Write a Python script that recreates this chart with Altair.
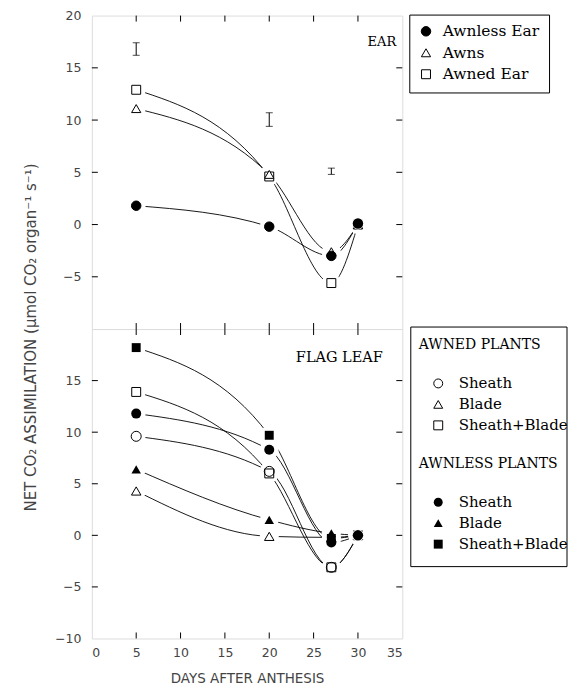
import altair as alt
import pandas as pd

# ---------------- data ----------------
days = [5, 20, 27, 30]

ear_series = ["Awnless Ear", "Awns", "Awned Ear"]
ear_awnless = [1.8, -0.2, -3.0, 0.1]
ear_awns = [11.1, 4.8, -2.6, 0.0]
ear_awned = [12.9, 4.6, -5.6, 0.0]

err_days = [5, 20, 27]
err_lo = [16.2, 9.4, 4.8]
err_hi = [17.4, 10.7, 5.4]

leaf_groups = ["AWNED PLANTS", "AWNLESS PLANTS"]
leaf_parts = ["Sheath", "Blade", "Sheath+Blade"]
awned_sheath = [9.6, 6.2, -3.1, 0.0]
awned_blade = [4.3, -0.1, -0.2, 0.0]
awned_sb = [13.9, 6.0, -3.1, 0.0]
awnless_sheath = [11.8, 8.3, -0.7, 0.0]
awnless_blade = [6.4, 1.5, 0.2, 0.0]
awnless_sb = [18.2, 9.7, -0.3, 0.0]

x_labels = [0, 5, 10, 15, 20, 25, 30, 35]
x_tick_marks = [5, 10, 15, 20, 25, 30]
y_tick_marks = [-5, 0, 5, 10, 15]
ear_y_labels = [20, 15, 10, 5, 0, -5]
leaf_y_labels = [15, 10, 5, 0, -5, -10]

panel_labels_ear = pd.DataFrame({"day": [32.7], "value": [17.5], "text": ["EAR"]})
panel_labels_leaf = pd.DataFrame({"day": [27.9], "value": [17.2], "text": ["FLAG LEAF"]})

# ---------------- frames (drawing order: last drawn on top) ----------------
ear_rows = []
for name, vals in [("Awned Ear", ear_awned), ("Awns", ear_awns),
                   ("Awnless Ear", ear_awnless)]:
    for d, v in zip(days, vals):
        ear_rows.append({"day": d, "value": v, "series": name})
ear_df = pd.DataFrame(ear_rows)

err_df = pd.DataFrame({"day": err_days, "lo": err_lo, "hi": err_hi})

leaf_rows = []
for grp, series in [("AWNED PLANTS", [("Sheath+Blade", awned_sb), ("Blade", awned_blade),
                                      ("Sheath", awned_sheath)]),
                    ("AWNLESS PLANTS", [("Sheath+Blade", awnless_sb),
                                        ("Blade", awnless_blade),
                                        ("Sheath", awnless_sheath)])]:
    for part, vals in series:
        for d, v in zip(days, vals):
            leaf_rows.append({"day": d, "value": v, "group": grp, "part": part,
                              "key": grp + part})
leaf_df = pd.DataFrame(leaf_rows)

xt_df = pd.DataFrame({"t": x_tick_marks})
yt_df = pd.DataFrame({"t": y_tick_marks})
one_df = pd.DataFrame({"a": [0]})

W = 311
H1 = 314
H2 = 310
TICK = 6
LAST_DAY = days[-1]

LABEL_FONT = "DejaVu Sans"
SERIF = "DejaVu Serif"

xscale = alt.Scale(domain=[0, 35], nice=False, zero=False)
yscale = alt.Scale(domain=[-10, 20], nice=False, zero=False)

x_axis_none = None
x_axis_bottom = alt.Axis(values=x_labels, ticks=False, domain=False, grid=False,
                         labelPadding=8, labelFont=LABEL_FONT, labelFontSize=12.5,
                         labelColor="#444", title="DAYS    AFTER    ANTHESIS",
                         titleFont=LABEL_FONT, titleFontSize=13.5, titleFontWeight="normal",
                         titleColor="#444", titlePadding=13)

y_axis_top = alt.Axis(values=ear_y_labels, ticks=False, domain=False, grid=False,
                      labelPadding=11, labelFont=LABEL_FONT, labelFontSize=12.5,
                      labelColor="#444", title=None)
y_axis_bottom = alt.Axis(values=leaf_y_labels, ticks=False, domain=False, grid=False,
                         labelPadding=11, labelFont=LABEL_FONT, labelFontSize=12.5,
                         labelColor="#444",
                         title="NET   CO\u2082   ASSIMILATION   (\u03bcmol   CO\u2082   organ\u207b\u00b9   s\u207b\u00b9)",
                         titleFont=LABEL_FONT, titleFontSize=15, titleFontWeight="normal",
                         titleColor="#444", titleX=-61, titleY=8,
                         titleBaseline="middle", titleAlign="center", titleAngle=270)


def tick_layers(h, xaxis, yaxis):
    left = alt.Chart(yt_df).mark_rule(color="black", strokeWidth=1).encode(
        y=alt.Y("t:Q", scale=yscale, axis=yaxis), x=alt.value(0), x2=alt.value(TICK))
    right = alt.Chart(yt_df).mark_rule(color="black", strokeWidth=1).encode(
        y=alt.Y("t:Q", scale=yscale, axis=yaxis), x=alt.value(W - TICK), x2=alt.value(W))
    top = alt.Chart(xt_df).mark_rule(color="black", strokeWidth=1).encode(
        x=alt.X("t:Q", scale=xscale, axis=xaxis), y=alt.value(0), y2=alt.value(TICK))
    bottom = alt.Chart(xt_df).mark_rule(color="black", strokeWidth=1).encode(
        x=alt.X("t:Q", scale=xscale, axis=xaxis), y=alt.value(h - TICK), y2=alt.value(h))
    return [left, right, top, bottom]


HALO = 360

# ---------------- top panel (EAR) ----------------
ex = alt.X("day:Q", scale=xscale, axis=x_axis_none)
ey = alt.Y("value:Q", scale=yscale, axis=y_axis_top)

ear_lines = alt.Chart(ear_df).mark_line(interpolate="monotone", color="black",
                                        strokeWidth=0.9).encode(
    x=ex, y=ey, detail="series:N")
ear_halo = alt.Chart(ear_df).mark_point(filled=True, color="white", size=HALO,
                                        opacity=1).encode(x=ex, y=ey)
ear_legend = alt.Legend(title=None, orient="none", legendX=318, legendY=-1,
                        padding=9, strokeColor="black", labelFont=SERIF,
                        labelFontSize=15.5, labelColor="black", rowPadding=4.5,
                        symbolStrokeColor="black",
                        symbolStrokeWidth=1, labelOffset=9)
ear_points = alt.Chart(ear_df).mark_point(filled=True, strokeWidth=1,
                                          opacity=1).encode(
    x=ex, y=ey,
    shape=alt.Shape("series:N", scale=alt.Scale(domain=ear_series,
                                                range=["circle", "triangle-up", "square"]),
                    legend=ear_legend),
    fill=alt.Fill("series:N", scale=alt.Scale(domain=ear_series,
                                              range=["black", "white", "white"]),
                  legend=ear_legend),
    stroke=alt.Stroke("series:N", scale=alt.Scale(domain=ear_series,
                                                  range=["black", "black", "black"]),
                      legend=ear_legend),
    size=alt.Size("series:N", scale=alt.Scale(domain=ear_series, range=[90, 80, 64]),
                  legend=ear_legend),
)
# the filled circle sits on top of the coincident markers at the last day
ear_cap_halo = alt.Chart(ear_df).transform_filter(
    (alt.datum.series == "Awnless Ear") & (alt.datum.day == LAST_DAY)).mark_point(
    filled=True, color="white", size=150, opacity=1).encode(x=ex, y=ey)
ear_cap = alt.Chart(ear_df).transform_filter(
    (alt.datum.series == "Awnless Ear") & (alt.datum.day == LAST_DAY)).mark_point(
    filled=True, color="black", size=110, opacity=1).encode(x=ex, y=ey)

err_rule = alt.Chart(err_df).mark_rule(color="black", strokeWidth=1).encode(
    x=alt.X("day:Q", scale=xscale, axis=x_axis_none),
    y=alt.Y("lo:Q", scale=yscale, axis=y_axis_top), y2="hi:Q")
err_cap_lo = alt.Chart(err_df).mark_tick(orient="horizontal", size=7, thickness=1,
                                         color="black").encode(
    x=alt.X("day:Q", scale=xscale, axis=x_axis_none),
    y=alt.Y("lo:Q", scale=yscale, axis=y_axis_top))
err_cap_hi = alt.Chart(err_df).mark_tick(orient="horizontal", size=7, thickness=1,
                                         color="black").encode(
    x=alt.X("day:Q", scale=xscale, axis=x_axis_none),
    y=alt.Y("hi:Q", scale=yscale, axis=y_axis_top))
ear_text = alt.Chart(panel_labels_ear).mark_text(font=SERIF, fontSize=13,
                                                 color="black", align="center").encode(
    x=ex, y=ey, text="text:N")

top = alt.layer(*tick_layers(H1, x_axis_none, y_axis_top), err_rule, err_cap_lo,
                err_cap_hi, ear_lines, ear_halo, ear_points, ear_cap_halo, ear_cap,
                ear_text).properties(width=W, height=H1)

# ---------------- bottom panel (FLAG LEAF) ----------------
lx = alt.X("day:Q", scale=xscale, axis=x_axis_bottom)
ly = alt.Y("value:Q", scale=yscale, axis=y_axis_bottom)

leaf_lines = alt.Chart(leaf_df).mark_line(interpolate="monotone", color="black",
                                          strokeWidth=0.9).encode(
    x=lx, y=ly, detail="key:N")
leaf_halo = alt.Chart(leaf_df).mark_point(filled=True, color="white", size=HALO,
                                          opacity=1).encode(x=lx, y=ly)


def group_legend(title, ly_):
    return alt.Legend(title=title, orient="none", legendX=327.5, legendY=ly_,
                      padding=0, titleFont=SERIF, titleFontSize=14,
                      titleFontWeight="normal", titleColor="black", titlePadding=24,
                      labelFont=SERIF, labelFontSize=15, labelColor="black",
                      rowPadding=5, symbolSize=80, symbolStrokeColor="black",
                      symbolStrokeWidth=1, symbolOffset=12, labelOffset=13)


shape_scale = alt.Scale(domain=leaf_parts, range=["circle", "triangle-up", "square"])
size_scale = alt.Scale(domain=leaf_parts, range=[100, 80, 64])
awned_pts = alt.Chart(leaf_df).transform_filter(
    alt.datum.group == "AWNED PLANTS").mark_point(
    filled=False, color="black", strokeWidth=1, opacity=1).encode(
    x=lx, y=ly,
    shape=alt.Shape("part:N", scale=shape_scale,
                    legend=group_legend("AWNED PLANTS", 9)),
    size=alt.Size("part:N", scale=size_scale, legend=None))
awnless_pts = alt.Chart(leaf_df).transform_filter(
    alt.datum.group == "AWNLESS PLANTS").mark_point(
    filled=True, color="black", opacity=1).encode(
    x=lx, y=ly,
    shape=alt.Shape("part:N", scale=shape_scale,
                    legend=group_legend("AWNLESS PLANTS", 128)),
    size=alt.Size("part:N", scale=size_scale, legend=None))
leaf_cap_filter = ((alt.datum.group == "AWNLESS PLANTS") & (alt.datum.part == "Sheath")
                   & (alt.datum.day == LAST_DAY))
leaf_cap_halo = alt.Chart(leaf_df).transform_filter(leaf_cap_filter).mark_point(
    filled=True, color="white", size=150, opacity=1).encode(x=lx, y=ly)
leaf_cap = alt.Chart(leaf_df).transform_filter(leaf_cap_filter).mark_point(
    filled=True, color="black", size=110, opacity=1).encode(x=lx, y=ly)

box = alt.Chart(one_df).mark_rect(fill="white", fillOpacity=0, stroke="black",
                                  strokeWidth=1).encode(
    x=alt.value(319.5), x2=alt.value(476), y=alt.value(-2), y2=alt.value(238))
leaf_text = alt.Chart(panel_labels_leaf).mark_text(font=SERIF, fontSize=14.5,
                                                   color="black", align="center").encode(
    x=lx, y=ly, text="text:N")

bottom = alt.layer(*tick_layers(H2, x_axis_bottom, y_axis_bottom), leaf_lines,
                   leaf_halo, awned_pts, awnless_pts, leaf_cap_halo, leaf_cap, box,
                   leaf_text).resolve_scale(
    shape="independent").properties(width=W, height=H2)

chart = alt.vconcat(top, bottom, spacing=0, bounds="flush").resolve_scale(
    shape="independent", fill="independent", stroke="independent",
    size="independent").properties(
    padding={"left": 15, "top": 0, "right": 0, "bottom": 0}
).configure_view(stroke="black", strokeWidth=1).configure(background="white")

chart.save("out.html", embed_options={"renderer": "svg", "actions": False})
